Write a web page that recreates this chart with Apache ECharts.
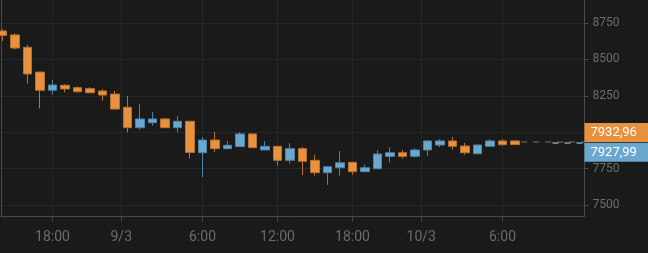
<!DOCTYPE html>
<html><head><meta charset="utf-8">
<script src="https://cdn.jsdelivr.net/npm/echarts@6/dist/echarts.min.js"></script>
<style>html,body{margin:0;padding:0;background:#1a1a1a;}#c{width:648px;height:253px;}</style>
</head><body><div id="c"></div>
<script>
// OHLC per hourly candle (index = position on the axis)
const opens  = [8695,8668,8583,8413,8288,8322,8306,8299,8283,8262,8171,8031,8065,8091,8031,8075,7859,7946,7887,7901,7988,7878,7903,7807,7887,7807,7722,7756,7793,7729,7749,7834,7859,7834,7878,7912,7940,7905,7852,7903,7940,7940];
const closes = [8665,8578,8400,8288,8324,8297,8278,8271,8255,8159,8031,8091,8091,8031,8075,7861,7946,7887,7910,7988,7894,7903,7807,7887,7800,7722,7763,7790,7729,7756,7850,7859,7834,7878,7940,7940,7903,7859,7912,7940,7914,7915];
const lows   = [8628,8566,8334,8163,8257,8273,8271,8271,8216,8159,7999,8017,8045,8031,7999,7819,7692,7864,7887,7901,7894,7878,7770,7784,7706,7701,7639,7701,7708,7727,7749,7793,7818,7825,7839,7898,7880,7845,7852,7903,7907,7915];
const highs  = [8707,8679,8602,8413,8358,8331,8313,8308,8295,8283,8249,8192,8139,8098,8111,8075,7967,8001,7940,8001,7988,7940,7903,7924,7898,7845,7763,7871,7793,7777,7878,7896,7878,7889,7942,7951,7967,7926,7912,7951,7951,7940];
const xTickPos    = [4, 9.5, 16, 22, 28, 33.5, 40];
const xTickLabels = ['18:00','9/3','6:00','12:00','18:00','10/3','6:00'];
const yTicks = [7500, 7750, 8000, 8250, 8500, 8750];
const lastPrices = [7932.96, 7927.99];

const ORANGE = '#e8913f', ORANGE_D = '#b8702f';
const BLUE = '#6ba8d0', BLUE_D = '#4d84a8';
const X_MIN = -0.12, X_MAX = 46.56, Y_MIN = 7421, Y_MAX = 8908;
const lastIdx = opens.length - 1;

const data = opens.map((o, i) => [i, o, closes[i], lows[i], highs[i]]);
const fmt = v => v.toFixed(2).replace('.', ',');

const chart = echarts.init(document.getElementById('c'), null, {renderer: 'canvas'});
chart.setOption({
  backgroundColor: '#1a1a1a',
  animation: false,
  grid: {left: 1, right: 63.5, top: 0, bottom: 36.5},
  xAxis: {
    type: 'value', min: X_MIN, max: X_MAX,
    axisLine: {onZero: false, lineStyle: {color: '#4a4a4a', width: 1}},
    axisTick: {customValues: xTickPos, length: 5, lineStyle: {color: '#4a4a4a'}},
    axisLabel: {customValues: xTickPos, formatter: v => xTickLabels[xTickPos.indexOf(v)] || '',
      color: '#6b6b6b', fontSize: 14, fontFamily: 'Roboto', margin: 14},
    splitLine: {show: true, lineStyle: {color: '#262626', width: 1}}
  },
  yAxis: [{
    type: 'value', position: 'right', min: Y_MIN, max: Y_MAX,
    axisLine: {show: true, onZero: false, lineStyle: {color: '#4a4a4a', width: 1}},
    axisTick: {show: true, customValues: yTicks, length: 4, lineStyle: {color: '#4a4a4a'}},
    axisLabel: {customValues: yTicks, formatter: v => String(v), color: '#6d6d6d', fontSize: 12, fontFamily: 'Roboto', margin: 8},
    splitLine: {show: true, lineStyle: {color: '#262626', width: 1}}
  }, {
    type: 'value', position: 'left', min: Y_MIN, max: Y_MAX,
    axisLine: {show: true, onZero: false, lineStyle: {color: '#4a4a4a', width: 1}},
    axisTick: {show: false}, axisLabel: {show: false}, splitLine: {show: false}
  }],
  series: [{
    type: 'candlestick',
    data: data,
    encode: {x: 0, y: [1, 2, 3, 4]},
    barWidth: 9,
    itemStyle: {color: BLUE, color0: ORANGE, borderColor: BLUE_D, borderColor0: ORANGE_D, borderWidth: 1},
    markLine: {
      symbol: ['none', 'none'],
      silent: true,
      data: [
        [{coord: [lastIdx + 0.5, lastPrices[0]],
          lineStyle: {color: '#555555', width: 1.6, type: [6, 6]},
          label: {show: true, position: 'end', distance: 0, verticalAlign: 'bottom',
            formatter: () => fmt(lastPrices[0]), color: '#fff', fontSize: 13, fontFamily: 'Roboto',
            backgroundColor: ORANGE, padding: [3, 16, 2, 6], lineHeight: 14}},
         {coord: [X_MAX, lastPrices[0]]}],
        [{coord: [lastIdx + 3, lastPrices[1]],
          lineStyle: {color: '#7aa3b4', width: 1.6, type: [6, 6]},
          label: {show: true, position: 'end', distance: 0, verticalAlign: 'top',
            formatter: () => fmt(lastPrices[1]), color: '#fff', fontSize: 13, fontFamily: 'Roboto',
            backgroundColor: BLUE, padding: [3, 16, 2, 6], lineHeight: 14}},
         {coord: [X_MAX, lastPrices[1]]}]
      ]
    }
  }]
});
</script></body></html>
